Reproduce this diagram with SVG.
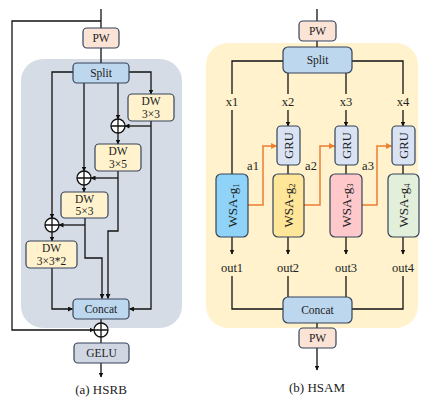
<svg xmlns="http://www.w3.org/2000/svg" width="422" height="398" viewBox="0 0 422 398" font-family="'Liberation Serif', 'Times New Roman', serif">
  <defs>
    <marker id="arr" viewBox="0 0 10 10" refX="9" refY="5" markerWidth="5" markerHeight="5" orient="auto" markerUnits="userSpaceOnUse">
      <path d="M0,0 L10,5 L0,10 z" fill="#111"/>
    </marker>
    <marker id="arrO" viewBox="0 0 10 10" refX="9" refY="5" markerWidth="6" markerHeight="6" orient="auto" markerUnits="userSpaceOnUse">
      <path d="M0,0 L10,5 L0,10 z" fill="#ED7D31"/>
    </marker>
    <style>
      text { font-family: 'Liberation Serif', 'Times New Roman', serif; fill: #222; }
      .box { stroke: #34435a; stroke-width: 1.2; }
      .pw { fill: #fbe3d6; }
      .blue { fill: #bdd7ee; }
      .dw { fill: #fff2cc; }
      .gru { fill: #dae3f3; }
      .gelu { fill: #d0d7e3; }
      .ln { fill: none; stroke: #111; stroke-width: 1.3; }
      .ar { marker-end: url(#arr); }
      .or { fill: none; stroke: #ED7D31; stroke-width: 1.5; marker-end: url(#arrO); }
      .plus { fill: #fff; stroke: #111; stroke-width: 1.3; }
      .t11 { font-size: 11.5px; text-anchor: middle; }
      .t12 { font-size: 12.5px; text-anchor: middle; }
      .t13 { font-size: 13px; text-anchor: middle; }
    </style>
  </defs>

  <!-- background panels -->
  <rect x="21" y="59" width="161" height="269" rx="22" fill="#d6dce6"/>
  <rect x="206" y="43" width="212" height="285" rx="22" fill="#fff2cc"/>

  <!-- connectors -->
  <g id="connectors">
    <!-- HSRB -->
    <path class="ln" d="M101,9 V28"/>
    <path class="ln" d="M101,21 H12 V330 H94" style="marker-end:url(#arr)"/>
    <path class="ln" d="M101,48 V63"/>
    <path class="ln" d="M73,72 H52 V218" style="marker-end:url(#arr)"/>
    <path class="ln ar" d="M129,72 H151 V94"/>
    <path class="ln ar" d="M118,83 V119"/>
    <path class="ln ar" d="M84,83 V171"/>
    <path class="ln ar" d="M151,121 V309 H129.5"/>
    <path class="ln ar" d="M151,126 H125"/>
    <path class="ln ar" d="M118,133 V144"/>
    <path class="ln ar" d="M118,171 V231 H108 V298.5"/>
    <path class="ln ar" d="M118,178 H91"/>
    <path class="ln ar" d="M84,185 V192"/>
    <path class="ln ar" d="M85,218 V258 H102 V298.5"/>
    <path class="ln ar" d="M85,225 H59"/>
    <path class="ln ar" d="M52,232 V241"/>
    <path class="ln ar" d="M52,268 V309 H72.5"/>
    <path class="ln" d="M101,319 V323"/>
    <path class="ln" d="M101,337 V343"/>
    <path class="ln ar" d="M101,363 V377"/>

    <!-- HSAM -->
    <path class="ln" d="M317,9 V21"/>
    <path class="ln" d="M317,41 V47"/>
    <path class="ln" d="M283,61 H232 V94"/>
    <path class="ln" d="M352,61 H403 V94"/>
    <path class="ln" d="M288,73 V94"/>
    <path class="ln" d="M346,73 V94"/>
    <path class="ln" d="M232,110 V174"/>
    <path class="ln ar" d="M288,110 V126"/>
    <path class="ln ar" d="M346,110 V126"/>
    <path class="ln ar" d="M403,110 V126"/>
    <path class="ln" d="M288,165 V174"/>
    <path class="ln" d="M346,165 V174"/>
    <path class="ln" d="M403,165 V174"/>
    <path class="ln ar" d="M232,237 V254"/>
    <path class="ln ar" d="M288,237 V254"/>
    <path class="ln ar" d="M346,237 V254"/>
    <path class="ln ar" d="M403,237 V254"/>
    <path class="ln" d="M232,276 V309 H283"/>
    <path class="ln" d="M403,276 V309 H352"/>
    <path class="ln" d="M288,276 V297"/>
    <path class="ln" d="M346,276 V297"/>
    <path class="ln" d="M317,323 V328"/>
    <path class="ln ar" d="M317,348 V370"/>
    <path class="or" d="M248,205 H263 V146 H276.5"/>
    <path class="or" d="M304,205 H320 V146 H334.5"/>
    <path class="or" d="M362,205 H377 V146 H391.5"/>
  </g>

  <!-- HSRB nodes -->
  <g id="pw-a"><rect class="box pw" x="83" y="28" width="36" height="20" rx="4"/><text class="t11" x="101" y="42">PW</text></g>
  <g id="split-a"><rect class="box blue" x="73" y="63" width="56" height="20" rx="4"/><text class="t11" x="101" y="77">Split</text></g>
  <g id="dw33"><rect class="box dw" x="128" y="94" width="46" height="27" rx="4"/><text class="t11" x="151" y="105">DW</text><text class="t11" x="151" y="118">3×3</text></g>
  <g id="add1"><circle class="plus" cx="118" cy="126" r="7"/><path class="ln" d="M111,126 H125 M118,119 V133"/></g>
  <g id="dw35"><rect class="box dw" x="95" y="144" width="46" height="27" rx="4"/><text class="t11" x="118" y="155">DW</text><text class="t11" x="118" y="168">3×5</text></g>
  <g id="add2"><circle class="plus" cx="84" cy="178" r="7"/><path class="ln" d="M77,178 H91 M84,171 V185"/></g>
  <g id="dw53"><rect class="box dw" x="61" y="192" width="47" height="26" rx="4"/><text class="t11" x="84.5" y="203">DW</text><text class="t11" x="84.5" y="215">5×3</text></g>
  <g id="add3"><circle class="plus" cx="52" cy="225" r="7"/><path class="ln" d="M45,225 H59 M52,218 V232"/></g>
  <g id="dw332"><rect class="box dw" x="26" y="241" width="51" height="27" rx="4"/><text class="t11" x="51.5" y="252">DW</text><text class="t11" x="51.5" y="265">3×3*2</text></g>
  <g id="concat-a"><rect class="box blue" x="73" y="299" width="56" height="20" rx="4"/><text class="t11" x="101" y="313">Concat</text></g>
  <g id="add4"><circle class="plus" cx="101" cy="330" r="7"/><path class="ln" d="M94,330 H108 M101,323 V337"/></g>
  <g id="gelu"><rect class="box gelu" x="74" y="343" width="55" height="20" rx="4"/><text class="t11" x="101.5" y="357">GELU</text></g>
  <text class="t13" x="101" y="394">(a) HSRB</text>

  <!-- HSAM nodes -->
  <g id="pw-b1"><rect class="box pw" x="299" y="21" width="37" height="20" rx="4"/><text class="t11" x="317.5" y="35">PW</text></g>
  <g id="split-b"><rect class="box blue" x="283" y="47" width="69" height="26" rx="5"/><text class="t11" x="317.5" y="64">Split</text></g>
  <text class="t12" x="232" y="106">x1</text>
  <text class="t12" x="288" y="106">x2</text>
  <text class="t12" x="346" y="106">x3</text>
  <text class="t12" x="403" y="106">x4</text>

  <g id="gru2"><rect class="box gru" x="277" y="126" width="23" height="39" rx="4"/><text class="t12" transform="translate(292.5,145.5) rotate(-90)">GRU</text></g>
  <g id="gru3"><rect class="box gru" x="335" y="126" width="23" height="39" rx="4"/><text class="t12" transform="translate(350.5,145.5) rotate(-90)">GRU</text></g>
  <g id="gru4"><rect class="box gru" x="392" y="126" width="23" height="39" rx="4"/><text class="t12" transform="translate(407.5,145.5) rotate(-90)">GRU</text></g>

  <g id="wsa1"><rect class="box" fill="#8fd4f8" x="216" y="174" width="32" height="63" rx="5"/><text class="t13" transform="translate(236.5,205.5) rotate(-90)">WSA-g<tspan font-size="8.5" dy="2">1</tspan></text></g>
  <g id="wsa2"><rect class="box" fill="#ffe699" x="273" y="174" width="31" height="63" rx="5"/><text class="t13" transform="translate(293,205.5) rotate(-90)">WSA-g<tspan font-size="8.5" dy="2">2</tspan></text></g>
  <g id="wsa3"><rect class="box" fill="#ffc9cc" x="330" y="174" width="32" height="63" rx="5"/><text class="t13" transform="translate(350.5,205.5) rotate(-90)">WSA-g<tspan font-size="8.5" dy="2">3</tspan></text></g>
  <g id="wsa4"><rect class="box" fill="#e2efda" x="388" y="174" width="31" height="63" rx="5"/><text class="t13" transform="translate(408,205.5) rotate(-90)">WSA-g<tspan font-size="8.5" dy="2">4</tspan></text></g>

  <text class="t12" x="253" y="170">a1</text>
  <text class="t12" x="311" y="170">a2</text>
  <text class="t12" x="368" y="170">a3</text>

  <text class="t12" x="232" y="272">out1</text>
  <text class="t12" x="288" y="272">out2</text>
  <text class="t12" x="346" y="272">out3</text>
  <text class="t12" x="403" y="272">out4</text>

  <g id="concat-b"><rect class="box blue" x="283" y="297" width="69" height="26" rx="5"/><text class="t11" x="317.5" y="314">Concat</text></g>
  <g id="pw-b2"><rect class="box pw" x="299" y="328" width="37" height="20" rx="4"/><text class="t11" x="317.5" y="342">PW</text></g>
  <text class="t13" x="317" y="392">(b) HSAM</text>
</svg>
